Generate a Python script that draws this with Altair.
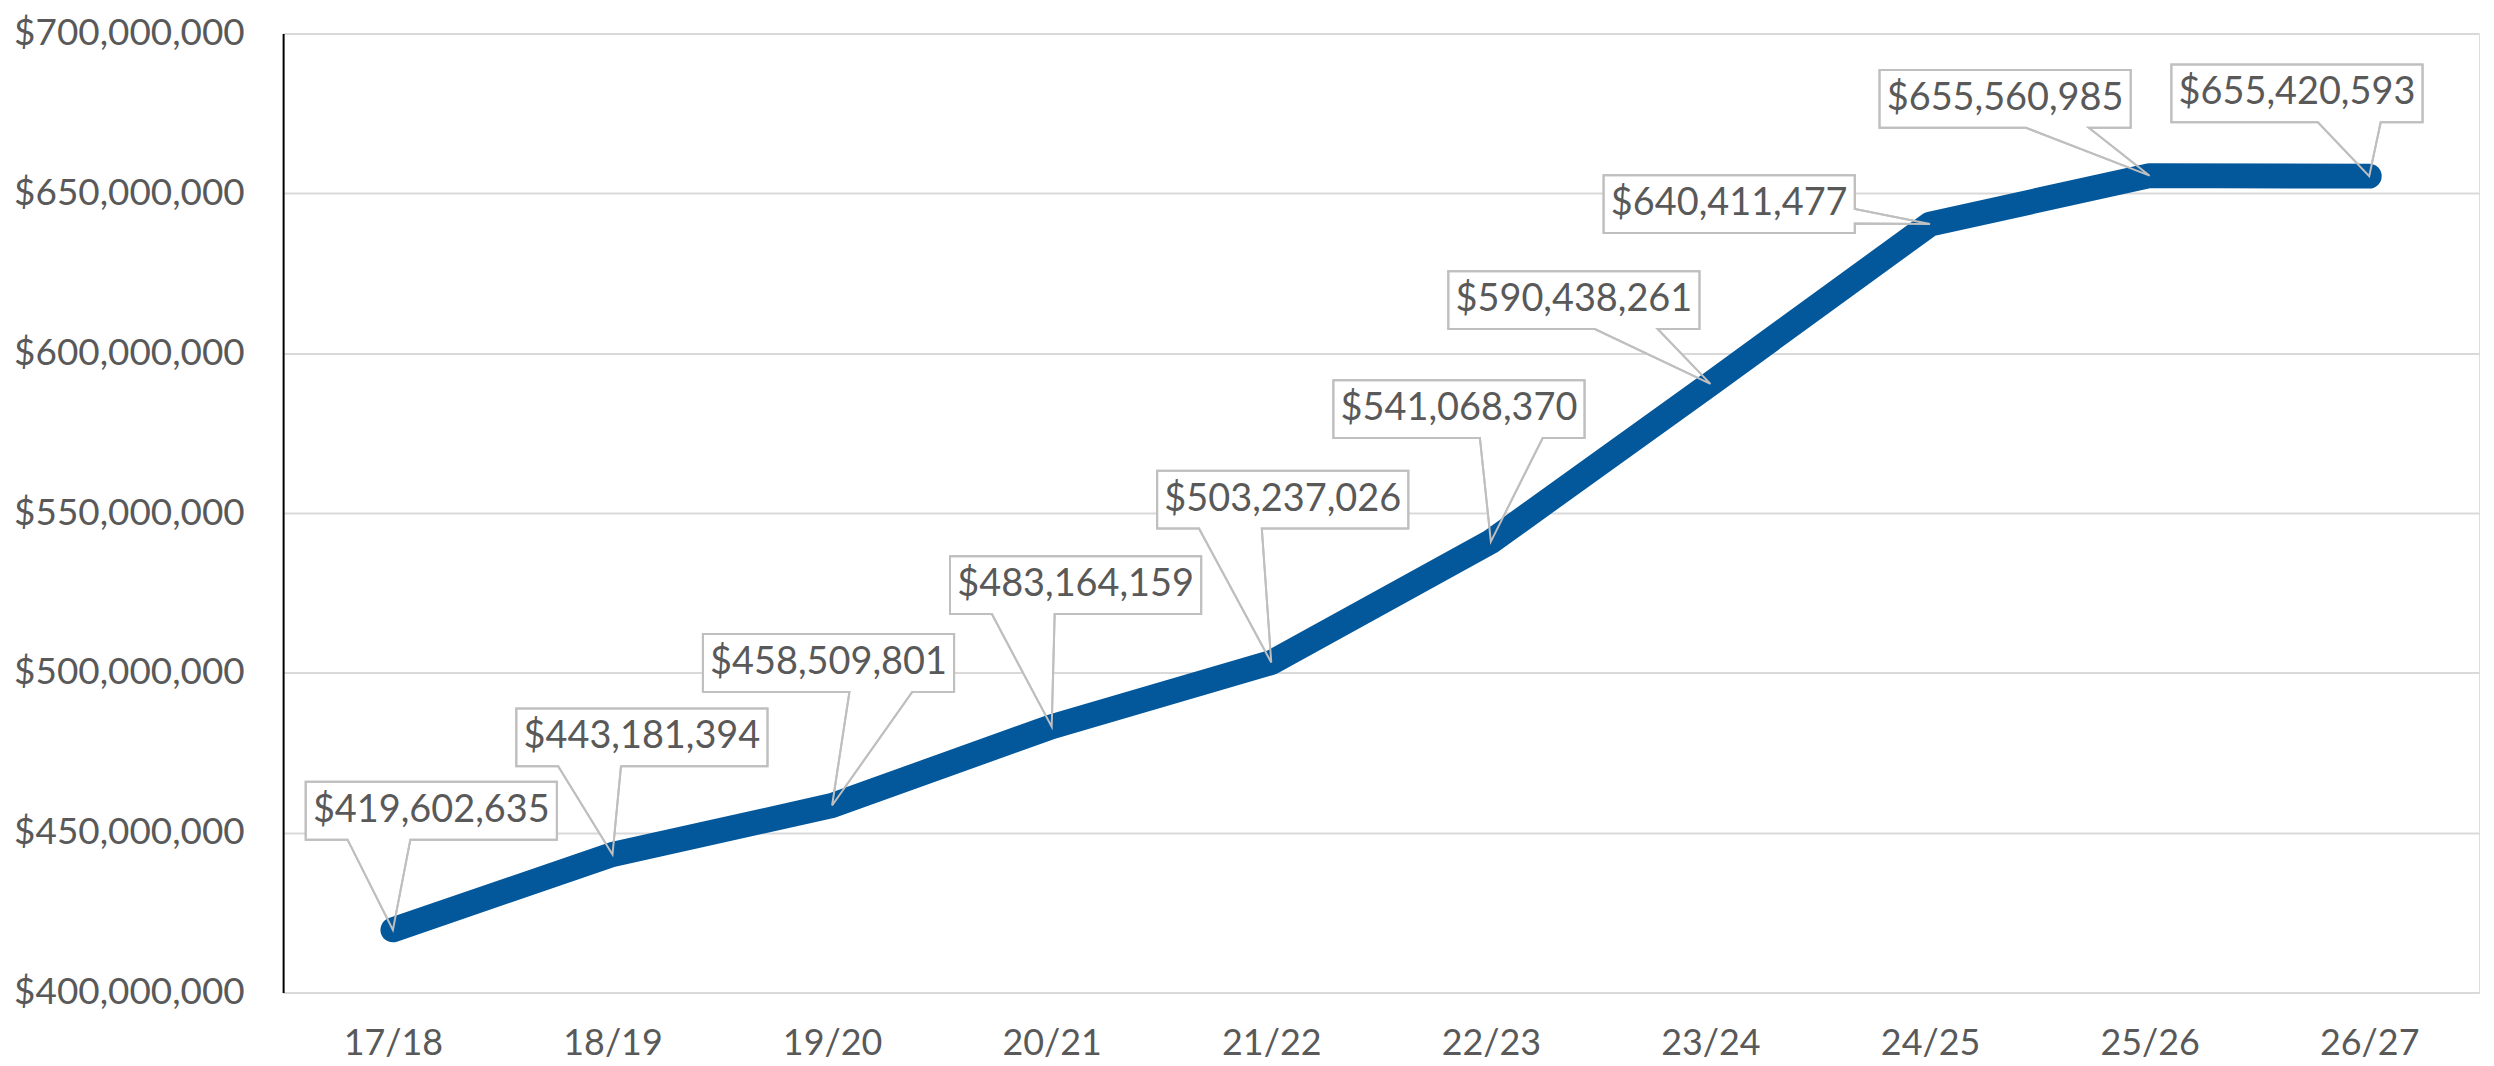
import altair as alt
import pandas as pd

# ---- data ----
categories = ["17/18", "18/19", "19/20", "20/21", "21/22", "22/23", "23/24", "24/25", "25/26", "26/27"]
values = [419602635, 443181394, 458509801, 483164159, 503237026,
          541068370, 590438261, 640411477, 655560985, 655420593]
y_ticks = [400000000, 450000000, 500000000, 550000000, 600000000, 650000000, 700000000]

# ---- callout layout (pixel offset of box centre from its point, side of the pointer) ----
callout_dx = [38.5, 29.5, -3.6, 24, 11.5, -32, -137, -201.5, -145, -72.5]
callout_dy = [-119.5, -117.5, -143, -142, -163.5, -133, -84, -20, -77, -83]
callout_side = ["BL", "BL", "BR", "BL", "BL", "BR", "BR", "R", "BR", "BR"]

W, H = 2203, 962
Y_MIN, Y_MAX = 400000000, 700000000
BOX_W, BOX_H = 252, 58
FONT = "Lato"
GREY_TXT = "#595959"


def callout_path(cx, cy, side):
    x0, x1 = cx - BOX_W / 2, cx + BOX_W / 2
    y0, y1 = cy - BOX_H / 2, cy + BOX_H / 2
    pts = [(x0, y0), (x1, y0)]
    if side == "R":
        pts += [(x1, cy + BOX_H / 12), (0, 0), (x1, cy + BOX_H / 3), (x1, y1), (x0, y1)]
    elif side == "BR":
        pts += [(x1, y1), (cx + BOX_W / 3, y1), (0, 0), (cx + BOX_W / 12, y1), (x0, y1)]
    else:
        pts += [(x1, y1), (cx - BOX_W / 12, y1), (0, 0), (cx - BOX_W / 3, y1), (x0, y1)]
    return "M" + " L".join(f"{x:.1f},{y:.1f}" for x, y in pts) + " Z"


px_per_x = W / 10.0
dollars_per_px = (Y_MAX - Y_MIN) / H

df = pd.DataFrame({
    "i": list(range(len(categories))),
    "cat": categories,
    "value": values,
    "label": [f"${v:,}" for v in values],
    "path": [callout_path(dx, dy, s) for dx, dy, s in zip(callout_dx, callout_dy, callout_side)],
    "tx": [i + dx / px_per_x for i, dx in enumerate(callout_dx)],
    "ty": [v - dy * dollars_per_px for v, dy in zip(values, callout_dy)],
})

label_expr = "[" + ",".join(f"'{c}'" for c in categories) + "][datum.value]"

xscale = alt.Scale(domain=[-0.5, len(categories) - 0.5], nice=False, zero=False)
yscale = alt.Scale(domain=[Y_MIN, Y_MAX], nice=False, zero=False)

xaxis = alt.Axis(values=list(range(len(categories))), labelExpr=label_expr, title=None,
                 grid=False, ticks=False, tickSize=0, domainColor="#D9D9D9", domainWidth=2,
                 labelFont=FONT, labelFontSize=36, labelColor=GREY_TXT, labelPadding=34,
                 labelFlush=False, labelLimit=0)
yaxis = alt.Axis(values=y_ticks, format="$,.0f", title=None, grid=True, gridColor="#D9D9D9",
                 gridWidth=2, ticks=False, tickSize=0, domainColor="#000000", domainWidth=2,
                 labelFont=FONT, labelFontSize=37, labelColor=GREY_TXT, labelPadding=39,
                 labelFlush=False, labelLimit=0)

base = alt.Chart(df)
X = alt.X("i:Q", scale=xscale, axis=xaxis)
Y = alt.Y("value:Q", scale=yscale, axis=yaxis)

callout_fill = base.mark_point(filled=True, fill="white", stroke="#BFBFBF", strokeWidth=2,
                               size=4, opacity=1).encode(
    x=X, y=Y, shape=alt.Shape("path:N", scale=None, legend=None))

line = base.mark_line(color="#03579B", strokeWidth=25, strokeCap="round",
                      strokeJoin="round").encode(x=X, y=Y)

callout_stroke = base.mark_point(filled=False, color="#BFBFBF", strokeWidth=2,
                                 size=4, opacity=1).encode(
    x=X, y=Y, shape=alt.Shape("path:N", scale=None, legend=None))

text = base.mark_text(font=FONT, fontSize=38, color=GREY_TXT, align="center",
                      baseline="middle").encode(
    x=alt.X("tx:Q", scale=xscale, axis=xaxis),
    y=alt.Y("ty:Q", scale=yscale, axis=yaxis),
    text="label:N")

chart = alt.layer(callout_fill, line, callout_stroke, text).properties(
    width=W, height=H,
    autosize=alt.AutoSizeParams(type="none"),
    padding={"left": 276, "top": 24, "right": 7, "bottom": 70},
).configure_view(strokeWidth=0).configure(background="white")

chart.save("out.html", embed_options={"renderer": "svg", "actions": False})
